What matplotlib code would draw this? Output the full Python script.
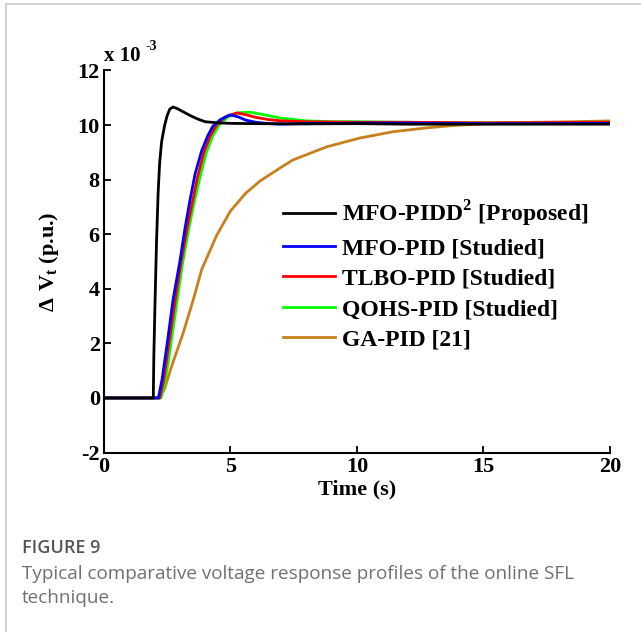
import matplotlib
matplotlib.use("Agg")
import matplotlib.pyplot as plt
from matplotlib.lines import Line2D

plt.rcParams['font.family'] = ['Liberation Serif', 'DejaVu Serif']
plt.rcParams['mathtext.fontset'] = 'custom'
plt.rcParams['mathtext.rm'] = 'Liberation Serif'
plt.rcParams['mathtext.bf'] = 'Liberation Serif:bold'
plt.rcParams['axes.unicode_minus'] = False

t_mfo_pidd2 = [0, 1.95, 1.97, 2.02, 2.08, 2.14, 2.2, 2.28, 2.4, 2.5, 2.6, 2.73, 2.9,
               3.1, 3.4, 3.7, 4.0, 4.5, 5, 6, 8, 10, 12, 15, 20]
v_mfo_pidd2 = [0, 0, 1.5, 3.6, 5.8, 7.5, 8.6, 9.4, 10.0, 10.35, 10.58, 10.66, 10.6,
               10.5, 10.35, 10.22, 10.12, 10.08, 10.06, 10.05, 10.04, 10.05, 10.03, 10.03, 10.03]

t_mfo_pid = [0, 2.15, 2.3, 2.5, 2.73, 3.0, 3.2, 3.4, 3.6, 3.86, 4.1, 4.3, 4.6, 4.98,
             5.3, 5.6, 6.0, 6.5, 7.0, 8, 10, 12, 15, 17, 20]
v_mfo_pid = [0, 0, 0.7, 2.0, 3.6, 5.0, 6.2, 7.25, 8.2, 9.05, 9.6, 9.95, 10.2, 10.37,
             10.3, 10.18, 10.1, 10.05, 10.03, 10.05, 10.07, 10.07, 10.05, 10.05, 10.06]

t_tlbo = [0, 2.2, 2.35, 2.55, 2.8, 3.05, 3.3, 3.5, 3.7, 3.95, 4.2, 4.45, 4.8, 5.25,
          5.6, 6.0, 6.5, 7.0, 8, 10, 12, 15, 20]
v_tlbo = [0, 0, 0.6, 1.9, 3.5, 5.0, 6.3, 7.2, 8.1, 9.0, 9.6, 10.0, 10.3, 10.44,
          10.38, 10.28, 10.2, 10.15, 10.12, 10.1, 10.1, 10.08, 10.1]

t_qohs = [0, 2.25, 2.4, 2.6, 2.85, 3.1, 3.35, 3.55, 3.8, 4.05, 4.3, 4.55, 4.9, 5.3,
          5.77, 6.3, 7.0, 8.0, 9, 10, 12, 15, 17, 20]
v_qohs = [0, 0, 0.5, 1.7, 3.3, 4.9, 6.2, 7.1, 8.1, 9.0, 9.6, 10.0, 10.3, 10.45,
          10.47, 10.38, 10.25, 10.15, 10.12, 10.12, 10.1, 10.08, 10.08, 10.1]

t_ga = [0, 2.2, 2.4, 2.67, 3.13, 3.53, 3.86, 4.45, 5.0, 5.6, 6.17, 7.0, 7.47, 8.8,
        10.1, 11.4, 12.8, 13.8, 15.3, 17, 18.5, 20]
v_ga = [0, 0, 0.35, 1.15, 2.38, 3.6, 4.7, 5.95, 6.85, 7.5, 7.95, 8.45, 8.72, 9.2,
        9.52, 9.75, 9.9, 9.98, 10.06, 10.1, 10.12, 10.15]

labels = ['MFO-PIDD$^{\\mathbf{2}}$ [Proposed]', 'MFO-PID [Studied]',
          'TLBO-PID [Studied]', 'QOHS-PID [Studied]', 'GA-PID [21]']
colors = ['#000000', '#0000FF', '#FF0000', '#00FF00', '#C8801E']

x_ticks = [0, 5, 10, 15, 20]
y_ticks = [-2, 0, 2, 4, 6, 8, 10, 12]

fig = plt.figure(figsize=(6.41, 6.32), dpi=100)

# card border
fig.add_artist(Line2D([0.0094, 0.0094], [0, 0.993], color='#cccccc', lw=1.2))
fig.add_artist(Line2D([0.0094, 1.0], [0.993, 0.993], color='#cccccc', lw=1.2))

ax = fig.add_axes([0.1622, 0.2839, 0.7894, 0.6047])

series = [(t_mfo_pidd2, v_mfo_pidd2), (t_mfo_pid, v_mfo_pid), (t_tlbo, v_tlbo),
          (t_qohs, v_qohs), (t_ga, v_ga)]
# draw order: orange at the back, black on top
for i in [4, 3, 2, 1, 0]:
    t, v = series[i]
    ax.plot(t, v, color=colors[i], lw=2, label=labels[i])

ax.set_xlim(0, 20)
ax.set_ylim(-2, 12)
ax.set_xticks(x_ticks)
ax.set_yticks(y_ticks)
ax.spines['top'].set_visible(False)
ax.spines['right'].set_visible(False)
for s in ['left', 'bottom']:
    ax.spines[s].set_linewidth(1.5)
ax.tick_params(direction='in', length=5, width=1.3, labelsize=16, pad=3)
for lab in ax.get_xticklabels() + ax.get_yticklabels():
    lab.set_fontweight('bold')

ax.set_xlabel('Time (s)', fontsize=16, fontweight='bold', labelpad=2)
ax.set_ylabel('$\\mathbf{\\Delta\\ V_t}$ (p.u.)', fontsize=16, fontweight='bold', labelpad=12)
ax.text(0.0, 1.012, 'x 10', transform=ax.transAxes, fontsize=15,
        fontweight='bold', ha='left', va='bottom')
ax.text(0.083, 1.045, '-3', transform=ax.transAxes, fontsize=10,
        fontweight='bold', ha='left', va='bottom')

handles, labs = ax.get_legend_handles_labels()
order = [4, 3, 2, 1, 0]
leg = ax.legend([handles[k] for k in order], [labs[k] for k in order],
                frameon=False, loc='upper left', bbox_to_anchor=(0.335, 0.69),
                fontsize=17, handlelength=2.2, handletextpad=0.3, labelspacing=0.38,
                borderaxespad=0)
for txt in leg.get_texts():
    txt.set_fontweight('bold')

fig.text(22 / 641, 1 - 539 / 632, 'FIGURE 9', fontsize=13, color='#555555',
         family='Open Sans', fontweight='semibold', ha='left', va='top')
fig.text(22 / 641, 1 - 565 / 632,
         'Typical comparative voltage response profiles of the online SFL\ntechnique.',
         fontsize=13.6, color='#707070', family='Open Sans', ha='left', va='top',
         linespacing=1.4)

fig.savefig('out.png', dpi=100)
